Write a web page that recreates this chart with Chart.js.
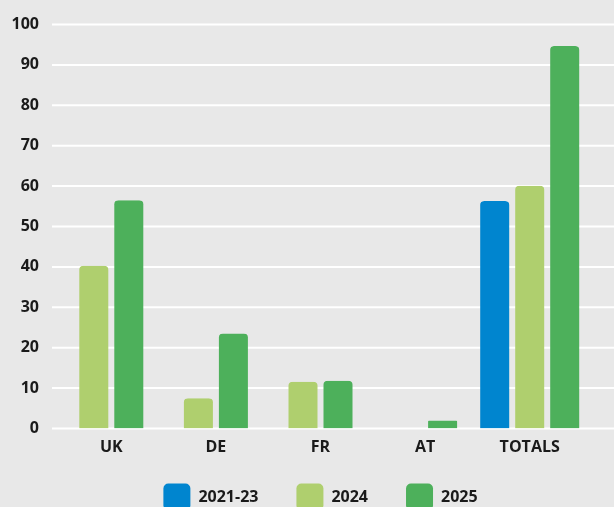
<!DOCTYPE html>
<html lang="en">
<head>
  <meta charset="UTF-8" />
  <title>Bar chart</title>
  <script src="https://cdn.jsdelivr.net/npm/chart.js"></script>
  <style>
    html, body {
      margin: 0;
      padding: 0;
      background: #e8e8e8;
      overflow: hidden;
    }
    .wrap {
      position: relative;
      width: 614px;
      height: 521px;
    }
  </style>
</head>
<body>
<div class="wrap">
  <canvas id="chart"></canvas>
</div>

<script>
  const categories = ['UK', 'DE', 'FR', 'AT', 'TOTALS'];
  const values2021_23 = [null, null, null, null, 56.3];
  const values2024 = [40.3, 7.5, 11.6, 0, 60.1];
  const values2025 = [56.5, 23.5, 11.8, 2.0, 94.7];

  const textColor = '#1a1a1a';
  const fontFamily = "'Open Sans', 'Noto Sans', sans-serif";

  // white horizontal lines that run past the plot to the right edge
  const wideGrid = {
    id: 'wideGrid',
    beforeDatasetsDraw(chart) {
      const ctx = chart.ctx;
      const y = chart.scales.y;
      ctx.save();
      ctx.strokeStyle = '#ffffff';
      ctx.lineWidth = 2;
      y.ticks.forEach(t => {
        const py = y.getPixelForValue(t.value);
        ctx.beginPath();
        ctx.moveTo(chart.chartArea.left - 7, py);
        ctx.lineTo(chart.width, py);
        ctx.stroke();
      });
      ctx.restore();
    }
  };

  const barStyle = {
    barThickness: 35,
    borderWidth: { left: 3, right: 3, top: 0, bottom: 0 },
    borderColor: 'rgba(0,0,0,0)',
    borderRadius: { topLeft: 7, topRight: 7, bottomLeft: 0, bottomRight: 0 },
    inflateAmount: 0
  };

  new Chart(document.getElementById('chart'), {
    type: 'bar',
    data: {
      labels: categories,
      datasets: [
        Object.assign({ label: '2021-23', data: values2021_23, backgroundColor: '#0085cf' }, barStyle),
        Object.assign({ label: '2024', data: values2024, backgroundColor: '#afcf6e' }, barStyle),
        Object.assign({ label: '2025', data: values2025, backgroundColor: '#4db05b' }, barStyle)
      ]
    },
    options: {
      responsive: true,
      maintainAspectRatio: false,
      animation: false,
      skipNull: true,
      layout: { padding: { left: 0, top: 24.5, right: 32, bottom: 0.5 } },
      plugins: {
        tooltip: { enabled: false },
        legend: {
          position: 'bottom',
          fullSize: false,
          labels: {
            boxWidth: 27,
            boxHeight: 27,
            useBorderRadius: true,
            borderRadius: 5,
            padding: 38,
            color: textColor,
            font: { family: fontFamily, size: 16, weight: 'bold' }
          }
        }
      },
      scales: {
        x: {
          grid: { display: false },
          border: { display: false },
          ticks: {
            mirror: true,
            padding: -28.5,
            color: textColor,
            font: { family: fontFamily, size: 16, weight: 'bold' }
          },
          afterFit(scale) { scale.height = 17; }
        },
        y: {
          min: 0,
          max: 100,
          grid: { display: false, drawTicks: true, tickLength: 20 },
          border: { display: false },
          ticks: {
            stepSize: 10,
            padding: 0,
            color: textColor,
            font: { family: fontFamily, size: 16, weight: 'bold' }
          },
          afterFit(scale) { scale.width = 59; }
        }
      }
    },
    plugins: [wideGrid]
  });
</script>
</body>
</html>
